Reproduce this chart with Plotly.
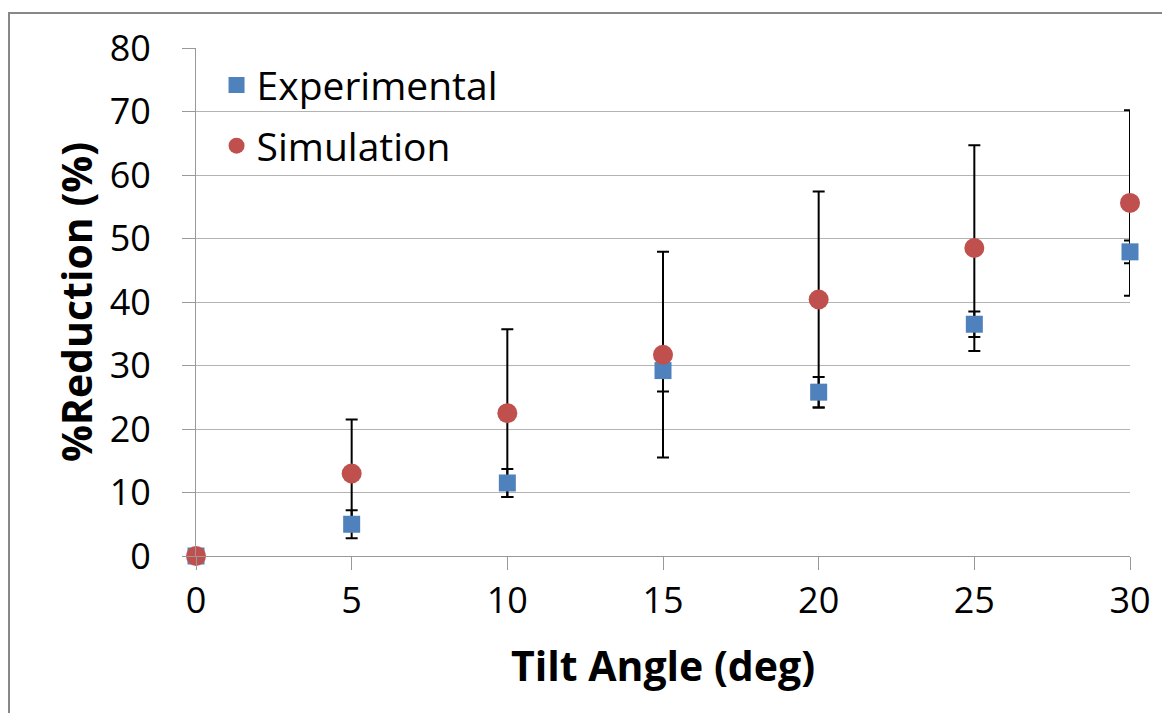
import plotly.graph_objects as go

tilt = [0, 5, 10, 15, 20, 25, 30]
experimental = [0, 5.0, 11.5, 29.2, 25.8, 36.5, 47.9]
exp_err = [0, 2.2, 2.2, 3.3, 2.4, 2.0, 1.8]
simulation = [0, 13.0, 22.5, 31.7, 40.4, 48.5, 55.6]
sim_err = [0, 8.5, 13.2, 16.2, 17.0, 16.2, 14.6]

y_ticks = [0, 10, 20, 30, 40, 50, 60, 70, 80]
x_ticks = [0, 5, 10, 15, 20, 25, 30]

FONT = "Open Sans"
BLUE = "#4F81BD"
RED = "#C0504D"

def err(arr):
    return dict(type="data", array=arr, symmetric=True, color="black",
                thickness=2, width=6, visible=True)

fig = go.Figure()
# error bars first (behind all markers)
fig.add_trace(go.Scatter(x=tilt, y=experimental, mode="markers",
                         marker=dict(color="rgba(0,0,0,0)", size=17),
                         error_y=err(exp_err), showlegend=False,
                         cliponaxis=False, hoverinfo="skip"))
fig.add_trace(go.Scatter(x=tilt, y=simulation, mode="markers",
                         marker=dict(color="rgba(0,0,0,0)", size=20),
                         error_y=err(sim_err), showlegend=False,
                         cliponaxis=False, hoverinfo="skip"))
fig.add_trace(go.Scatter(x=tilt, y=experimental, mode="markers",
                         name="Experimental", legendgroup="a",
                         marker=dict(color=BLUE, size=17, symbol="square"),
                         cliponaxis=False))
fig.add_trace(go.Scatter(x=tilt, y=simulation, mode="markers",
                         name="Simulation", legendgroup="b",
                         marker=dict(color=RED, size=20, symbol="circle"),
                         cliponaxis=False))

# the page body has an 8px offset, so margins are in figure coordinates
L, R, T, B = 188, 48, 40, 164.5
W, H = 1170, 713
pw, ph = W - L - R, H - T - B

fig.add_shape(type="rect", xref="paper", yref="paper",
              x0=(1 - L) / pw, x1=(W + 10 - L) / pw,
              y0=-(H + 10 - (H - B)) / ph, y1=((H - B) - 5) / ph,
              line=dict(color="#888888", width=2), fillcolor="rgba(0,0,0,0)",
              layer="below")

fig.update_layout(
    width=W, height=H,
    margin=dict(l=L, r=R, t=T, b=B, pad=0),
    paper_bgcolor="white", plot_bgcolor="white",
    font=dict(family=FONT, color="black", size=32),
    legend=dict(x=0.022, y=0.99, xanchor="left", yanchor="top",
                bgcolor="rgba(0,0,0,0)", font=dict(size=39),
                traceorder="grouped", tracegroupgap=7),
    xaxis=dict(range=[0, 30], tickvals=x_ticks, showgrid=False,
               showline=True, linecolor="#999999", linewidth=1,
               ticks="outside", ticklen=13, tickcolor="#999999",
               tickfont=dict(size=36), zeroline=False,
               title=dict(text="<b>Tilt Angle (deg)</b>", font=dict(size=41),
                          standoff=29)),
    yaxis=dict(range=[0, 80], tickvals=y_ticks, showgrid=True,
               gridcolor="#b3b3b3", gridwidth=1,
               showline=True, linecolor="#999999", linewidth=1,
               ticks="outside", ticklen=13, tickcolor="#999999",
               tickfont=dict(size=36), zeroline=False,
               ticklabelstandoff=24,
               title=dict(text="<b>%Reduction (%)</b>", font=dict(size=41),
                          standoff=4)),
)

fig.write_html("out.html")
